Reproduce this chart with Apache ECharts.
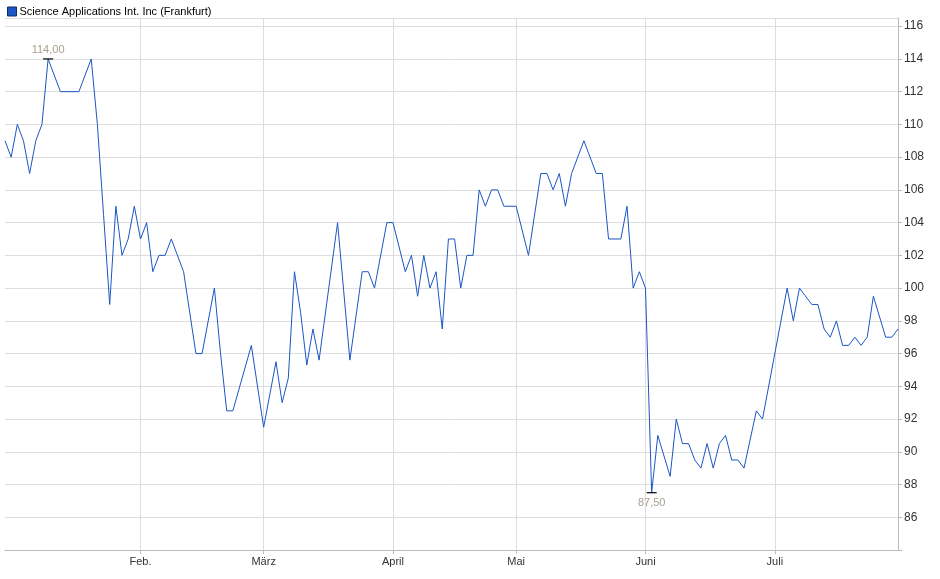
<!DOCTYPE html>
<html><head><meta charset="utf-8">
<script src="https://cdn.jsdelivr.net/npm/echarts@6/dist/echarts.min.js"></script>
<style>html,body{margin:0;padding:0;background:#fff}#c{width:940px;height:579px}</style>
</head><body><div id="c"></div>
<script>
const seriesName = 'Science Applications Int. Inc (Frankfurt)';
const pointIndex = [0,1,2,3,4,5,6,7,9,12,14,15,16,17,18,19,20,21,22,23,24,25,26,27,29,31,32,34,35,36,37,40,42,44,45,46,47,48,49,50,51,54,56,58,59,60,62,63,65,66,67,68,69,70,71,72,73,74,75,76,77,78,79,80,81,83,85,87,88,89,90,91,92,94,96,97,98,100,101,102,103,104,105,106,108,109,110,111,112,113,114,115,116,117,118,119,120,122,123,127,128,129,131,132,133,134,135,136,137,138,139,140,141,143,144,145];
const pointValue = [109,108,110,109,107,109,110,114,112,112,114,110,104.5,99,105,102,103,105,103,104,101,102,102,103,101,96,96,100,96,92.5,92.5,96.5,91.5,95.5,93,94.5,101,98.5,95.3,97.5,95.6,104,95.6,101,101,100,104,104,101,102,99.5,102,100,101,97.5,103,103,100,102,102,106,105,106,106,105,105,102,107,107,106,107,105,107,109,107,107,103,103,105,100,101,100,87.5,91,88.5,92,90.5,90.5,89.5,89,90.5,89,90.5,91,89.5,89.5,89,92.5,92,100,98,100,99,99,97.5,97,98,96.5,96.5,97,96.5,97,99.5,97,97,97.5];
const dayCount = 146;
const monthIndex = [22,42,63,83,104,125];
const monthLabels = ['Feb.','März','April','Mai','Juni','Juli'];

const cats = []; for (let i=0;i<dayCount;i++) cats.push(String(i));
const data = new Array(dayCount).fill(null);
pointIndex.forEach((ix,k)=>{data[ix]=pointValue[k];});
const isMonth = i => monthIndex.indexOf(i) >= 0;
let maxK=0,minK=0;
pointValue.forEach((v,k)=>{ if(v>pointValue[maxK])maxK=k; if(v<pointValue[minK])minK=k; });

const chart = echarts.init(document.getElementById('c'));
chart.setOption({
  animation:false,
  textStyle:{fontFamily:'Liberation Sans, Arial, sans-serif'},
  legend:{left:2,top:1,itemWidth:9,itemHeight:9,itemGap:4,icon:'rect',
    textStyle:{fontSize:11,color:'#000',padding:[0,0,0,-2]},
    data:[{name:seriesName,itemStyle:{color:'#1a56c4',borderColor:'#0b2a66',borderWidth:1}}]},
  grid:{left:5,right:42,top:18,bottom:29},
  xAxis:{type:'category',data:cats,boundaryGap:false,
    axisLine:{show:true,lineStyle:{color:'#bbb'}},
    axisTick:{show:true,interval:(i)=>isMonth(i),length:4,lineStyle:{color:'#bbb'}},
    axisLabel:{interval:(i)=>isMonth(i),formatter:(v)=>monthLabels[monthIndex.indexOf(+v)]||'',fontSize:11,color:'#333',margin:6},
    splitLine:{show:true,interval:(i)=>isMonth(i),lineStyle:{color:'#ddd'}}},
  yAxis:{type:'value',position:'right',min:84,max:116.5,interval:2,
    axisLine:{show:true,lineStyle:{color:'#bbb'}},
    axisTick:{show:true,length:4,lineStyle:{color:'#bbb'}},
    axisLabel:{fontSize:12,color:'#333',margin:6,formatter:(v)=>v===84?'':String(v)},
    splitLine:{lineStyle:{color:'#ddd'}}},
  series:[{name:seriesName,type:'line',data:data,connectNulls:true,showSymbol:false,
    lineStyle:{color:'#1a56c4',width:1},itemStyle:{color:'#1a56c4'},
    markPoint:{symbol:'rect',symbolSize:[10,1.2],itemStyle:{color:'#000'},
      data:[
        {coord:[String(pointIndex[maxK]),pointValue[maxK]],label:{show:true,position:'top',distance:3,formatter:pointValue[maxK].toFixed(2).replace('.',','),color:'#a8a090',fontSize:11}},
        {coord:[String(pointIndex[minK]),pointValue[minK]],label:{show:true,position:'bottom',distance:4,formatter:pointValue[minK].toFixed(2).replace('.',','),color:'#a8a090',fontSize:11}}
      ]}}]
});
</script></body></html>
